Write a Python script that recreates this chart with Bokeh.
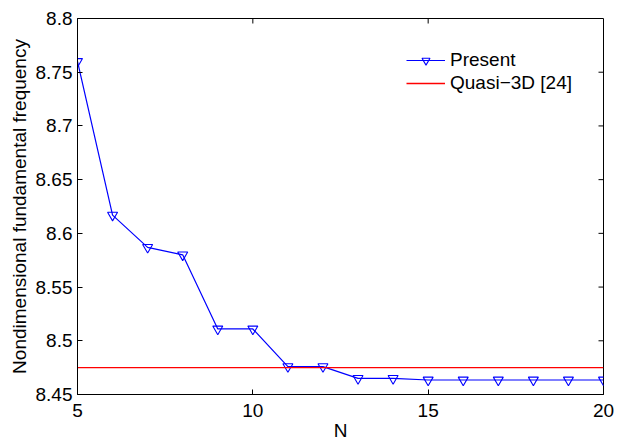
import math
from bokeh.plotting import figure
from bokeh.models import LinearAxis, FixedTicker, Range1d, Legend, LegendItem
from bokeh.embed import file_html
from bokeh.resources import INLINE

# ---- data ----
N = [5, 6, 7, 8, 9, 10, 11, 12, 13, 14, 15, 16, 17, 18, 19, 20]
present = [8.760, 8.617, 8.587, 8.580, 8.511, 8.511, 8.476, 8.476,
           8.465, 8.465, 8.4635, 8.4635, 8.4635, 8.4635, 8.4635, 8.4635]
quasi_3d = 8.475
x_ticks = [5, 10, 15, 20]
y_ticks = [8.45, 8.5, 8.55, 8.6, 8.65, 8.7, 8.75, 8.8]
x_label = "N"
y_label = "Nondimensional fundamental frequency"
series_names = ["Present", "Quasi\u22123D [24]"]

FONT = "Liberation Sans"
FS = "19px"

p = figure(width=617, height=443, output_backend="svg", toolbar_location=None,
           x_range=Range1d(N[0], N[-1]), y_range=Range1d(y_ticks[0], y_ticks[-1]),
           x_axis_location=None, y_axis_location=None,
           min_border_left=77, min_border_right=14, min_border_top=18, min_border_bottom=46)
p.xgrid.visible = False
p.ygrid.visible = False
p.outline_line_color = "black"
p.outline_line_width = 1
p.background_fill_color = "white"
p.border_fill_color = "white"

def style_axis(ax, ticks):
    ax.ticker = FixedTicker(ticks=ticks)
    ax.major_tick_in = 5
    ax.major_tick_out = 0
    ax.minor_tick_line_color = None
    ax.axis_line_color = "black"
    ax.axis_line_width = 1
    ax.major_tick_line_color = "black"
    ax.major_label_text_font = FONT
    ax.major_label_text_color = "black"
    ax.major_label_text_font_size = FS
    ax.major_label_overrides = {t: f"{t:g}" for t in ticks}
    ax.axis_label_text_font = FONT
    ax.axis_label_text_font_style = "normal"
    ax.axis_label_text_font_size = FS
    ax.axis_label_text_color = "black"

xb = LinearAxis(axis_label=x_label)
style_axis(xb, x_ticks)
xb.major_label_standoff = 9
xb.axis_label_standoff = 0
p.add_layout(xb, "below")

yl = LinearAxis(axis_label=y_label)
style_axis(yl, y_ticks)
yl.major_label_standoff = 5
yl.axis_label_standoff = 3
p.add_layout(yl, "left")

# inward ticks on the top and right sides of the box
p.scatter(x_ticks[1:-1], [y_ticks[-1]] * len(x_ticks[1:-1]), marker="dash",
          angle=math.pi / 2, size=10, line_color="black", line_width=1)
p.scatter([N[-1]] * len(y_ticks[1:-1]), y_ticks[1:-1], marker="dash",
          size=10, line_color="black", line_width=1)

r_line = p.line(N, present, line_color="#0000ff", line_width=1.2)
r_mark = p.scatter(N, present, marker="inverted_triangle", size=10,
                   line_color="#0000ff", fill_color=None, line_width=1.1)
r_quasi = p.line([N[0], N[-1]], [quasi_3d, quasi_3d], line_color="#ff0000", line_width=1.4)

legend = Legend(items=[LegendItem(label=series_names[0], renderers=[r_line, r_mark]),
                       LegendItem(label=series_names[1], renderers=[r_quasi])],
                location="top_right", margin=31, padding=0, spacing=1,
                glyph_width=39, label_standoff=5,
                label_text_font=FONT, label_text_font_size=FS, label_text_color="black",
                border_line_alpha=0, background_fill_alpha=0)
p.add_layout(legend)

open("out.html", "w").write(file_html(p, INLINE))
